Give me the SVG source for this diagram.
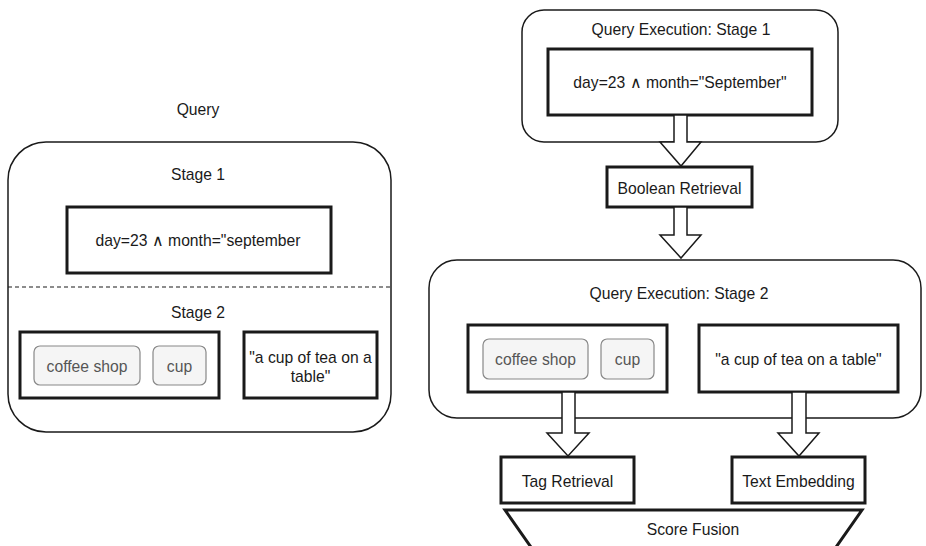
<svg xmlns="http://www.w3.org/2000/svg" width="926" height="546" viewBox="0 0 926 546">
<style>
text{font-family:"Liberation Sans",Arial,sans-serif;font-size:15.7px;fill:#1a1a1a;text-anchor:middle;dominant-baseline:central}
.outer{fill:#fff;stroke:#1a1a1a;stroke-width:1.5}
.box{fill:#fff;stroke:#1a1a1a;stroke-width:3}
.tag{fill:#f5f5f5;stroke:#888;stroke-width:1.2}
.tagt{fill:#555}
.arrow{fill:#fff;stroke:#1a1a1a;stroke-width:1.5;stroke-linejoin:miter}
</style>
<rect width="926" height="546" fill="#fff"/>
<g id="query-left">
<text x="198" y="109">Query</text>
<rect class="outer" x="8" y="142" width="383" height="290" rx="38" ry="38"/>
<text x="198" y="174">Stage 1</text>
<line x1="8" y1="287" x2="391" y2="287" stroke="#1a1a1a" stroke-width="1.2" stroke-dasharray="4,3"/>
<text x="198" y="312">Stage 2</text>
</g>
<g id="left-stage1-box">
<rect class="box" x="67" y="207" width="264" height="66"/>
<text x="198" y="240">day=23 ∧ month="september</text>
</g>
<g id="left-tags-box">
<rect class="box" x="20" y="332" width="199" height="66"/>
<rect class="tag" x="34" y="346" width="106" height="39" rx="6"/>
<text class="tagt" x="87" y="366">coffee shop</text>
<rect class="tag" x="153" y="346" width="53" height="39" rx="6"/>
<text class="tagt" x="179.5" y="366">cup</text>
</g>
<g id="left-text-box">
<rect class="box" x="244" y="332" width="133" height="66"/>
<text x="310.5" y="357">"a cup of tea on a</text>
<text x="310.5" y="376">table"</text>
</g>
<g id="exec-stage1">
<rect class="outer" x="522" y="10" width="316" height="132" rx="22" ry="22"/>
<text x="681" y="29">Query Execution: Stage 1</text>
<rect class="box" x="548" y="49" width="264" height="66"/>
<text x="680" y="82">day=23 ∧ month="September"</text>
</g>
<g id="boolean-retrieval">
<rect class="box" x="607" y="167" width="145" height="40"/>
<text x="679.5" y="188">Boolean Retrieval</text>
</g>
<g id="exec-stage2">
<rect class="outer" x="429" y="260" width="492" height="158" rx="28" ry="28"/>
<text x="679" y="293">Query Execution: Stage 2</text>
</g>
<g id="exec-tags-box">
<rect class="box" x="468" y="325" width="199" height="67"/>
<rect class="tag" x="483" y="339" width="105" height="40" rx="6"/>
<text class="tagt" x="535.5" y="359">coffee shop</text>
<rect class="tag" x="601" y="339" width="53" height="40" rx="6"/>
<text class="tagt" x="627.5" y="359">cup</text>
</g>
<g id="exec-text-box">
<rect class="box" x="699" y="325" width="199" height="67"/>
<text x="798.5" y="359">"a cup of tea on a table"</text>
</g>
<g id="tag-retrieval">
<rect class="box" x="501" y="457" width="133" height="46"/>
<text x="567.5" y="481">Tag Retrieval</text>
</g>
<g id="text-embedding">
<rect class="box" x="732" y="457" width="133" height="46"/>
<text x="798.5" y="481">Text Embedding</text>
</g>
<g id="score-fusion">
<polygon class="box" points="505,510 862,510 827,560 540,560"/>
<text x="693" y="529">Score Fusion</text>
</g>
<g id="connectors">
<polygon class="arrow" points="674,115 674,142 660,142 681,166 701,142 687,142 687,115"/>
<polygon class="arrow" points="674,207 674,235 660,235 681,258 701,235 687,235 687,207"/>
<polygon class="arrow" points="562,392 562,433 547,433 568,456 589,433 575,433 575,392"/>
<polygon class="arrow" points="792,392 792,433 778,433 799,456 819,433 806,433 806,392"/>
</g>
</svg>
